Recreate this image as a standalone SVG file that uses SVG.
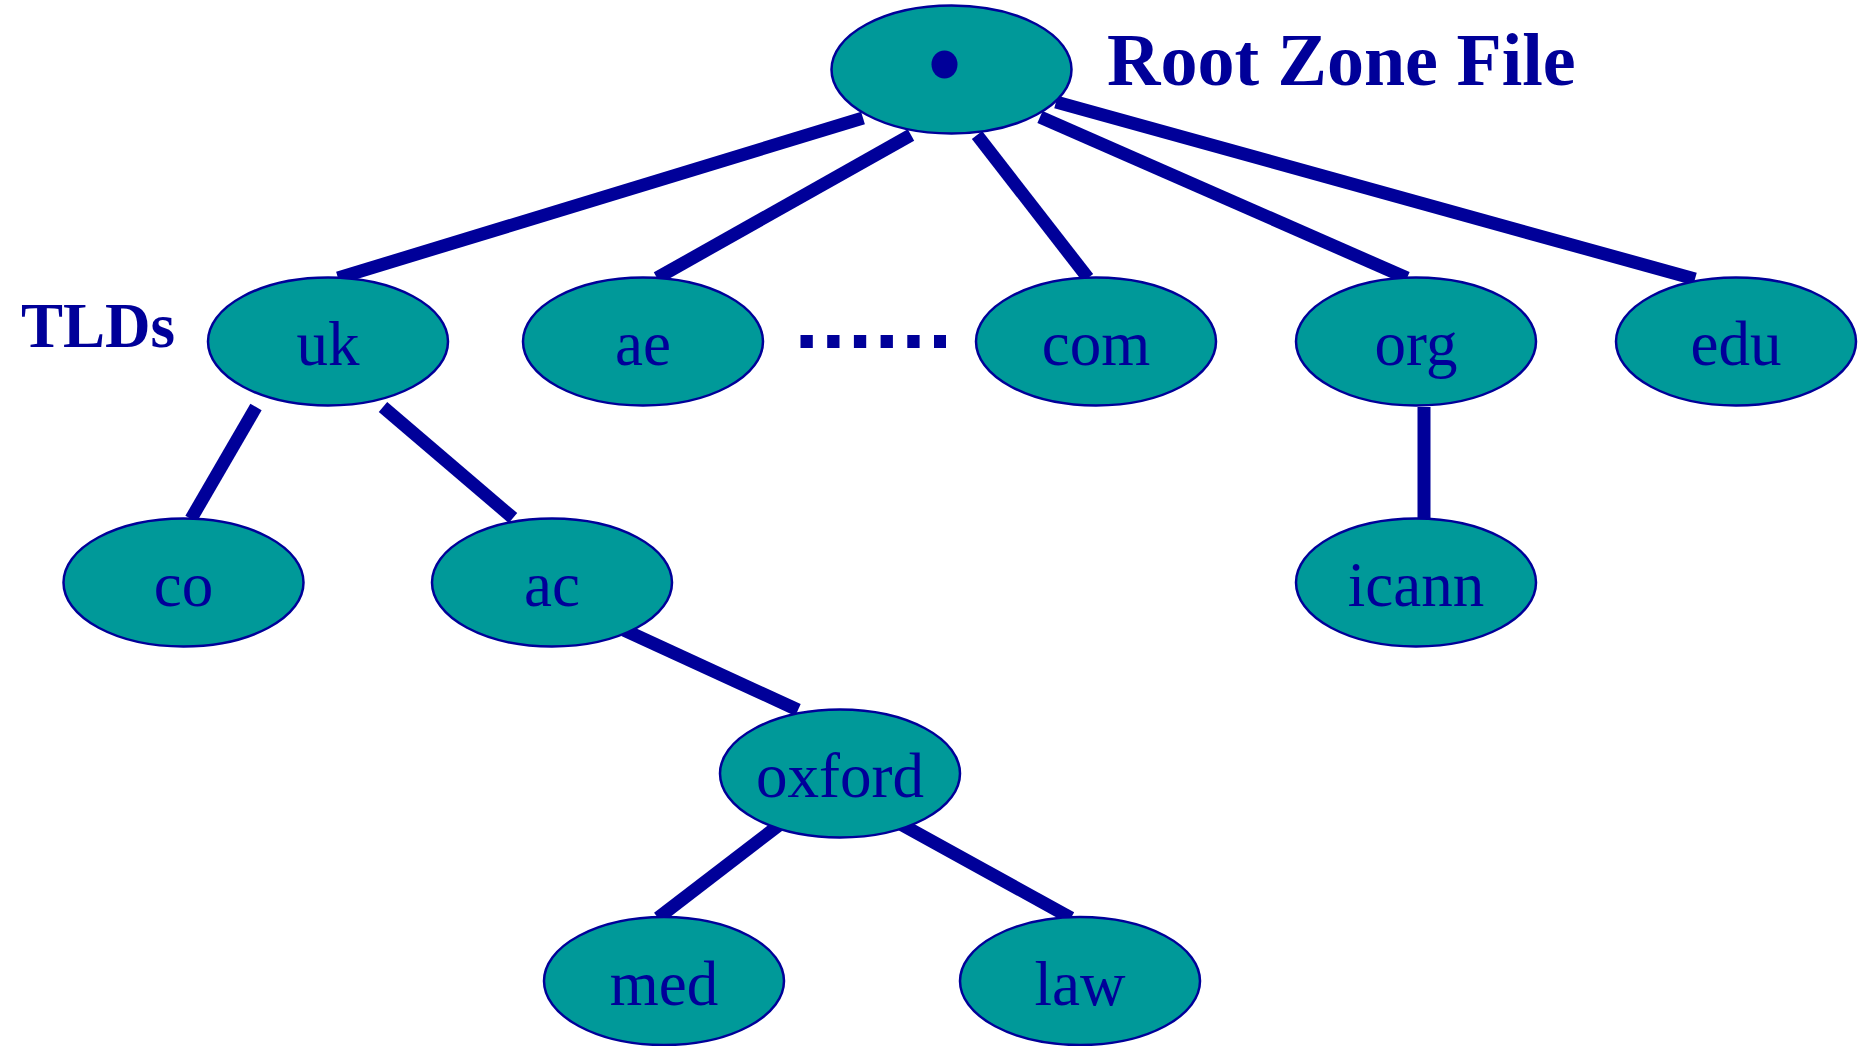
<svg xmlns="http://www.w3.org/2000/svg" width="1866" height="1046" viewBox="0 0 1866 1046">
<style>
.node ellipse{fill:#009999;stroke:#000099;stroke-width:2.5}
.node text{font-family:"Liberation Serif","Times New Roman",serif;font-size:63px;fill:#000099;text-anchor:middle}
.title{font-family:"Liberation Serif","Times New Roman",serif;font-weight:bold;fill:#000099}
#connectors line{stroke:#000099;stroke-width:13;stroke-linecap:butt}
</style>
<rect width="1866" height="1046" fill="#ffffff"/>
<g id="connectors">
<line x1="863" y1="118" x2="338" y2="278"/>
<line x1="911" y1="135" x2="657" y2="278"/>
<line x1="977" y1="135" x2="1088" y2="278"/>
<line x1="1040" y1="117" x2="1407" y2="278"/>
<line x1="1056" y1="102" x2="1695" y2="279"/>
<line x1="256" y1="407" x2="191" y2="519"/>
<line x1="383" y1="407" x2="513" y2="518"/>
<line x1="1424" y1="407" x2="1424" y2="519"/>
<line x1="624" y1="630" x2="798" y2="710"/>
<line x1="783" y1="822" x2="658" y2="918"/>
<line x1="897" y1="822" x2="1071" y2="918"/>
</g>
<line x1="800.5" y1="341.5" x2="946" y2="341.5" stroke="#000099" stroke-width="13" stroke-dasharray="12.3 14.4"/>
<g id="root" class="node">
<ellipse cx="951.5" cy="69.5" rx="120" ry="64"/>
<ellipse cx="944.5" cy="64.5" rx="13" ry="14" style="fill:#000099;stroke:none"/>
</g>
<text class="title" x="1107" y="85" font-size="74">Root Zone File</text>
<text class="title" x="21" y="347" font-size="63">TLDs</text>
<g id="uk" class="node"><ellipse cx="328" cy="341.5" rx="120" ry="64"/><text x="328" y="365">uk</text></g>
<g id="ae" class="node"><ellipse cx="643" cy="341.5" rx="120" ry="64"/><text x="643" y="365">ae</text></g>
<g id="com" class="node"><ellipse cx="1096" cy="341.5" rx="120" ry="64"/><text x="1096" y="365">com</text></g>
<g id="org" class="node"><ellipse cx="1416" cy="341.5" rx="120" ry="64"/><text x="1416" y="365">org</text></g>
<g id="edu" class="node"><ellipse cx="1736" cy="341.5" rx="120" ry="64"/><text x="1736" y="365">edu</text></g>
<g id="co" class="node"><ellipse cx="183.5" cy="582.5" rx="120" ry="64"/><text x="183.5" y="606">co</text></g>
<g id="ac" class="node"><ellipse cx="552" cy="582.5" rx="120" ry="64"/><text x="552" y="606">ac</text></g>
<g id="icann" class="node"><ellipse cx="1416" cy="582.5" rx="120" ry="64"/><text x="1416" y="606">icann</text></g>
<g id="oxford" class="node"><ellipse cx="840" cy="773.5" rx="120" ry="64"/><text x="840" y="797">oxford</text></g>
<g id="med" class="node"><ellipse cx="664" cy="981" rx="120" ry="64"/><text x="664" y="1004.5">med</text></g>
<g id="law" class="node"><ellipse cx="1080" cy="981" rx="120" ry="64"/><text x="1080" y="1004.5">law</text></g>
</svg>
